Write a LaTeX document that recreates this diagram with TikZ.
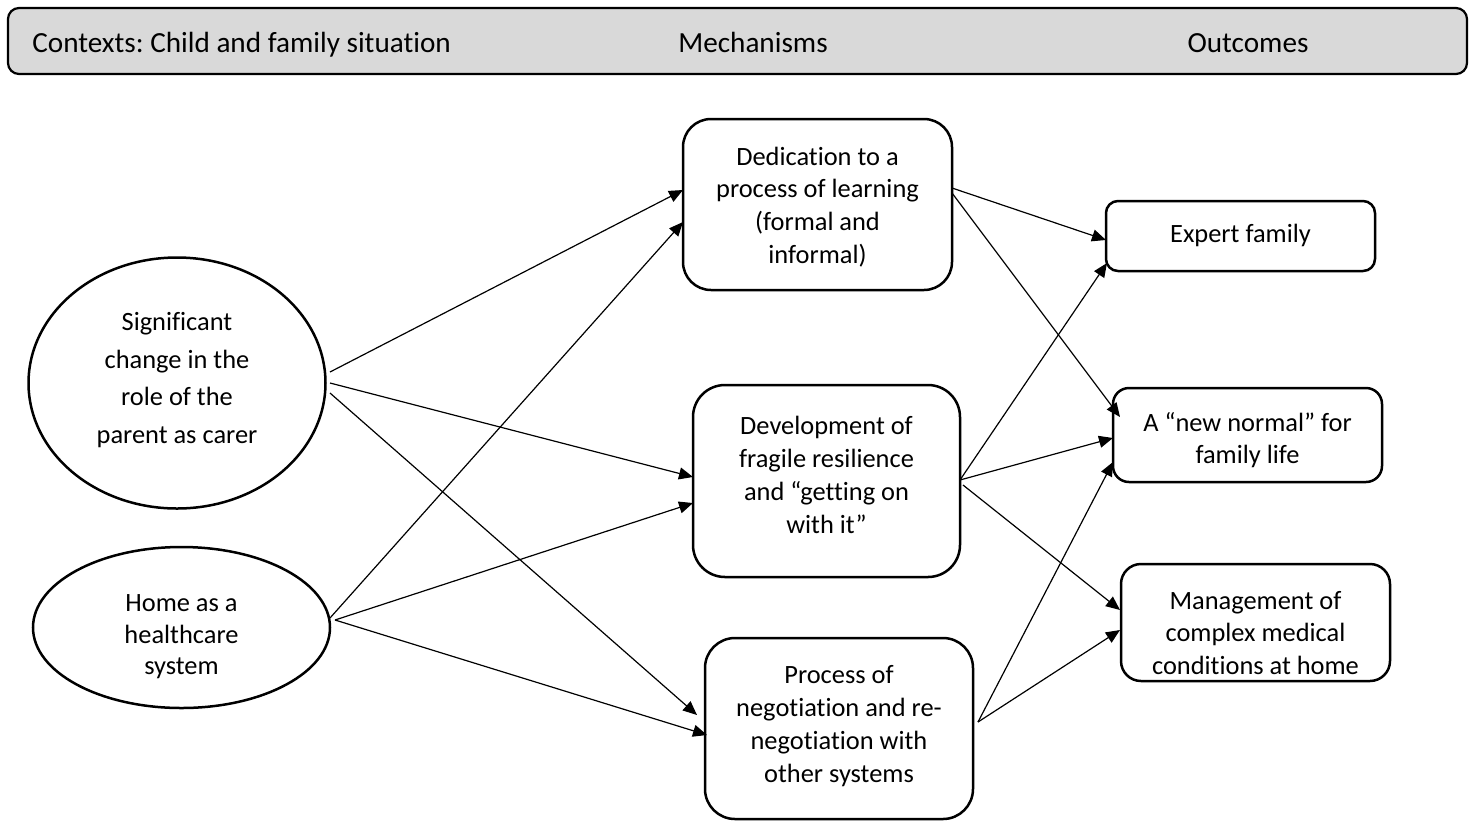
\documentclass[tikz,border=0pt]{standalone}
\usepackage{fontspec}
\setmainfont{Carlito}[Ligatures=NoCommon]
\usetikzlibrary{shapes.geometric,arrows.meta,calc}
\definecolor{hdrgray}{RGB}{217,217,217}
\frenchspacing
\tikzset{
  bx/.style={draw, line width=1.25pt, inner sep=0pt, outer sep=0pt},
  ell/.style={draw, ellipse, line width=1.25pt, inner sep=0pt, outer sep=0pt},
  txt/.style={align=center, inner sep=0pt, font=\fontsize{13.2}{16.4}\selectfont},
  htxt/.style={inner sep=0pt, font=\fontsize{14.6}{17}\selectfont},
  conn/.style={line width=0.6pt, -{Triangle[length=7pt,width=6pt]}}
}
\begin{document}
\begin{tikzpicture}[x=0.5pt,y=-0.5pt]
\useasboundingbox (0,0) rectangle (1474,821);
% header
\node[bx, fill=hdrgray, line width=1.1pt, rounded corners=5.5pt, minimum width=729.5pt, minimum height=33pt] (hdr) at (737.5,41) {};
\node[htxt, anchor=base west] (h1) at (32,52) {Contexts: Child and family situation};
\node[htxt, anchor=base] (h2) at (753,52) {Mechanisms};
\node[htxt, anchor=base] (h3) at (1248,52) {Outcomes};
% contexts
\node[ell, minimum width=148.5pt, minimum height=125.5pt] (e1) at (177,383) {};
\node[txt, font=\fontsize{13.2}{18.75}\selectfont] (te1) at (177,380) {Significant\\change in the\\role of the\\parent as carer};
\node[ell, minimum width=148.5pt, minimum height=80.5pt] (e2) at (181.5,627.5) {};
\node[txt, font=\fontsize{13.2}{15.75}\selectfont] (te2) at (181.5,637) {Home as a\\healthcare\\system};
% mechanisms
\node[bx, rounded corners=14pt, minimum width=134.5pt, minimum height=85.5pt] (b1) at (817.5,204.5) {};
\node[txt] (tb1) at (817.5,207) {Dedication to a\\process of learning\\(formal and\\informal)};
\node[bx, rounded corners=16pt, minimum width=133.5pt, minimum height=96pt] (b2) at (826.5,481) {};
\node[txt] (tb2) at (826.5,475) {Development of\\fragile resilience\\and \textquotedblleft getting on\\with it\textquotedblright};
\node[bx, rounded corners=15pt, minimum width=134pt, minimum height=90.5pt] (b3) at (839,728.5) {};
\node[txt] (tb3) at (839,726) {Process of\\negotiation and re-\\negotiation with\\other systems};
% outcomes
\node[bx, rounded corners=6pt, minimum width=134.5pt, minimum height=35pt] (b4) at (1240.5,236) {};
\node[txt] (tb4) at (1240.5,235) {Expert family};
\node[bx, rounded corners=8pt, minimum width=134.5pt, minimum height=47pt] (b5) at (1247.5,435) {};
\node[txt] (tb5) at (1247.5,440) {A \textquotedblleft new normal\textquotedblright{} for\\family life};
\node[bx, rounded corners=10pt, minimum width=134.5pt, minimum height=58.5pt] (b6) at (1255.5,622.5) {};
\node[txt] (tb6) at (1255.5,633) {Management of\\complex medical\\conditions at home};
% connectors: contexts -> mechanisms
\draw[conn] ($(e1.east)+(4.5,-11)$) -- ($(b1.west)+(0,-14.5)$);
\draw[conn] ($(e1.east)+(4.5,0)$) -- ($(b2.west)+(0,-4)$);
\draw[conn] ($(e1.east)+(4.5,10)$) -- ($(b3.west)+(-8,-13.5)$);
\draw[conn] ($(e2.east)+(0,-9.5)$) -- ($(b1.west)+(0,17.5)$);
\draw[conn] ($(e2.east)+(5,-7.5)$) -- ($(b2.west)+(0,22)$);
\draw[conn] ($(e2.east)+(5,-7.5)$) -- ($(b3.west)+(2,6.5)$);
% connectors: mechanisms -> outcomes
\draw[conn] ($(b1.east)+(0,-16.5)$) -- ($(b4.west)+(0,4)$);
\draw[conn] ($(b1.east)+(0,-11.5)$) -- ($(b5.west)+(7,-18)$);
\draw[conn] ($(b2.east)+(0,-1)$) -- ($(b4.west)+(1,27)$);
\draw[conn] ($(b2.east)+(0,-1)$) -- ($(b5.west)+(0,3)$);
\draw[conn] ($(b2.east)+(3,4)$) -- ($(b6.west)+(-1,-12.5)$);
\draw[conn] ($(b3.east)+(5,-6.5)$) -- ($(b5.west)+(0,27)$);
\draw[conn] ($(b3.east)+(5,-6.5)$) -- ($(b6.west)+(-1,7.5)$);
\end{tikzpicture}
\end{document}
